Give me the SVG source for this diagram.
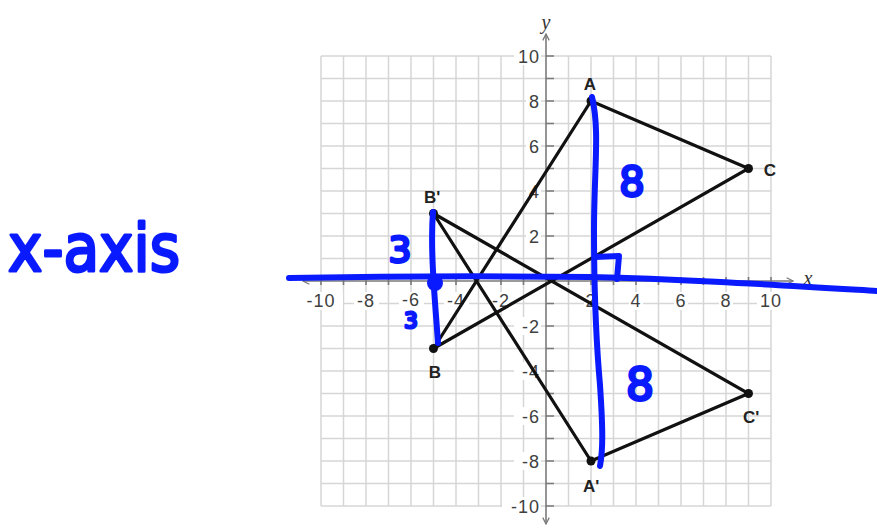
<svg xmlns="http://www.w3.org/2000/svg" width="877" height="530" viewBox="0 0 877 530">
<style>
.grid{stroke:#d6d6d6;stroke-width:1.5;fill:none}
.axis{stroke:#7a7a7a;stroke-width:1.6;fill:none}
.tick{font-family:"Liberation Sans",Arial,sans-serif;font-size:18px;fill:#404040;letter-spacing:1px}
.tri{stroke:#111;stroke-width:3.2;fill:none;stroke-linecap:round}
.pt{fill:#111}
.vl{font-family:"Liberation Sans",Arial,sans-serif;font-size:17px;font-weight:bold;fill:#222}
.ink{stroke:#0a1aff;stroke-width:6;fill:none;stroke-linecap:round;stroke-linejoin:round}
.hand{font-family:"DejaVu Sans","Liberation Sans",sans-serif;font-weight:normal;fill:#0a1aff;stroke:#0a1aff;stroke-width:3;stroke-linejoin:round}
.bg{fill:#fff}
</style>
<defs>
<marker id="arr" viewBox="0 0 10 10" refX="9" refY="5" markerWidth="8" markerHeight="8" orient="auto" markerUnits="userSpaceOnUse">
<path d="M1,1 L9,5 L1,9" fill="none" stroke="#7a7a7a" stroke-width="1.6"/>
</marker>
</defs>
<rect width="877" height="530" fill="#fff"/>
<g id="grid">
<path class="grid" d="M321,56V506M343.5,56V506M366,56V506M388.5,56V506M411,56V506M433.5,56V506M456,56V506M478.5,56V506M501,56V506M523.5,56V506M568.5,56V506M591,56V506M613.5,56V506M636,56V506M658.5,56V506M681,56V506M703.5,56V506M726,56V506M748.5,56V506M771,56V506
M321,56H771M321,78.5H771M321,101H771M321,123.5H771M321,146H771M321,168.5H771M321,191H771M321,213.5H771M321,236H771M321,258.5H771M321,303.5H771M321,326H771M321,348.5H771M321,371H771M321,393.5H771M321,416H771M321,438.5H771M321,461H771M321,483.5H771M321,506H771"/>
</g>
<g id="axes">
<line class="axis" x1="546" y1="281" x2="546" y2="34" marker-end="url(#arr)"/>
<line class="axis" x1="546" y1="281" x2="546" y2="524" marker-end="url(#arr)"/>
<line class="axis" x1="546" y1="281" x2="303" y2="281" marker-end="url(#arr)"/>
<line class="axis" x1="546" y1="281" x2="793" y2="281" marker-end="url(#arr)"/>
<path class="axis" d="M546,56h8M546,78.5h8M546,101h8M546,123.5h8M546,146h8M546,168.5h8M546,191h8M546,213.5h8M546,236h8M546,258.5h8M546,303.5h8M546,326h8M546,348.5h8M546,371h8M546,393.5h8M546,416h8M546,438.5h8M546,461h8M546,483.5h8M546,506h8
M321,277v8M343.5,277v8M366,277v8M388.5,277v8M411,277v8M433.5,277v8M456,277v8M478.5,277v8M501,277v8M523.5,277v8M568.5,277v8M591,277v8M613.5,277v8M636,277v8M658.5,277v8M681,277v8M703.5,277v8M726,277v8M748.5,277v8M771,277v8"/>
<text x="546" y="29" text-anchor="middle" font-family="Liberation Serif,serif" font-style="italic" font-size="20" fill="#333">y</text>
<text x="808" y="285" text-anchor="middle" font-family="Liberation Serif,serif" font-style="italic" font-size="20" fill="#333">x</text>
</g>
<g id="ticklabels">
<rect class="bg" x="301" y="292" width="42" height="18"/>
<rect class="bg" x="354" y="292" width="25" height="18"/>
<rect class="bg" x="399" y="292" width="25" height="18"/>
<rect class="bg" x="444" y="292" width="25" height="18"/>
<rect class="bg" x="489" y="292" width="25" height="18"/>
<rect class="bg" x="584" y="292" width="14" height="18"/>
<rect class="bg" x="629" y="292" width="14" height="18"/>
<rect class="bg" x="674" y="292" width="14" height="18"/>
<rect class="bg" x="719" y="292" width="14" height="18"/>
<rect class="bg" x="757" y="292" width="28" height="18"/>
<text class="tick" x="321" y="307" text-anchor="middle">-10</text>
<text class="tick" x="366" y="307" text-anchor="middle">-8</text>
<text class="tick" x="411" y="306" text-anchor="middle">-6</text>
<text class="tick" x="456" y="307" text-anchor="middle">-4</text>
<text class="tick" x="501" y="307" text-anchor="middle">-2</text>
<text class="tick" x="591" y="307" text-anchor="middle">2</text>
<text class="tick" x="636" y="307" text-anchor="middle">4</text>
<text class="tick" x="681" y="307" text-anchor="middle">6</text>
<text class="tick" x="726" y="307" text-anchor="middle">8</text>
<text class="tick" x="771" y="307" text-anchor="middle">10</text>
<rect class="bg" x="514" y="47" width="27" height="18"/>
<rect class="bg" x="526" y="92" width="15" height="18"/>
<rect class="bg" x="526" y="137" width="15" height="18"/>
<rect class="bg" x="526" y="182" width="15" height="18"/>
<rect class="bg" x="526" y="227" width="15" height="18"/>
<rect class="bg" x="514" y="317" width="27" height="18"/>
<rect class="bg" x="514" y="362" width="27" height="18"/>
<rect class="bg" x="514" y="407" width="27" height="18"/>
<rect class="bg" x="514" y="452" width="27" height="18"/>
<rect class="bg" x="502" y="497" width="39" height="18"/>
<text class="tick" x="540" y="63" text-anchor="end">10</text>
<text class="tick" x="540" y="108" text-anchor="end">8</text>
<text class="tick" x="540" y="153" text-anchor="end">6</text>
<text class="tick" x="540" y="198" text-anchor="end">4</text>
<text class="tick" x="540" y="243" text-anchor="end">2</text>
<text class="tick" x="540" y="333" text-anchor="end">-2</text>
<text class="tick" x="540" y="378" text-anchor="end">-4</text>
<text class="tick" x="540" y="423" text-anchor="end">-6</text>
<text class="tick" x="540" y="468" text-anchor="end">-8</text>
<text class="tick" x="540" y="513" text-anchor="end">-10</text>
</g>
<g id="connectors">
<path class="tri" d="M591,101L433.5,348.5L748.5,168.5Z"/>
<path class="tri" d="M591,461L433.5,213.5L748.5,393.5Z"/>
</g>
<g id="triangle-ABC">
<circle class="pt" cx="591" cy="101" r="4.5"/>
<circle class="pt" cx="433.5" cy="348.5" r="4.5"/>
<circle class="pt" cx="748.5" cy="168.5" r="4.5"/>
<text class="vl" x="590" y="90" text-anchor="middle">A</text>
<text class="vl" x="770" y="176" text-anchor="middle">C</text>
<text class="vl" x="435" y="378" text-anchor="middle">B</text>
</g>
<g id="triangle-A1B1C1">
<circle class="pt" cx="591" cy="461" r="4.5"/>
<circle class="pt" cx="433.5" cy="213.5" r="4.5"/>
<circle class="pt" cx="748.5" cy="393.5" r="4.5"/>
<text class="vl" x="424" y="203">B'</text>
<text class="vl" x="743" y="423">C'</text>
<text class="vl" x="583" y="492">A'</text>
</g>
<g id="annotations">
<path class="ink" d="M289,278 C400,276 500,276 590,277 C680,279 760,284 877,291"/>
<path class="ink" d="M592,97 C600,130 594,170 594,230 C594,300 596,340 600,385 C603,430 603,450 600,466"/>
<path class="ink" d="M595,257 L619,256 L617,279"/>
<path class="ink" d="M433,212 C430,250 435,300 438,343"/>
<circle cx="435" cy="283" r="8" fill="#0a1aff"/>
<text class="hand" x="400" y="262" text-anchor="middle" font-size="36">3</text>
<text class="hand" x="411" y="328" text-anchor="middle" font-size="21">3</text>
<text class="hand" x="632" y="196" text-anchor="middle" font-size="40">8</text>
<text class="hand" x="640" y="400" text-anchor="middle" font-size="44">8</text>
<text class="hand" x="8" y="271" font-size="66" stroke-width="3.5" textLength="172" lengthAdjust="spacingAndGlyphs">x-axis</text>
</g>
</svg>
